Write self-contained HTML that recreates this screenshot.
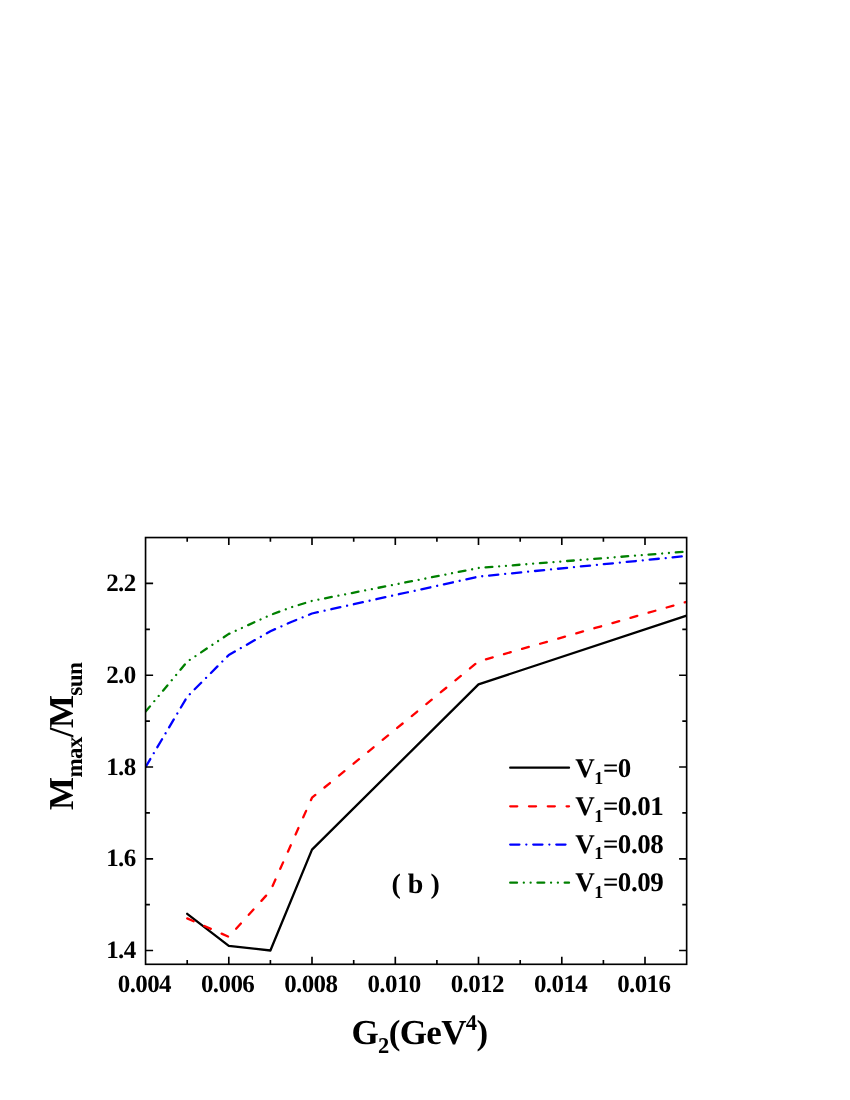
<!DOCTYPE html>
<html><head><meta charset="utf-8"><title>Figure</title>
<style>
html,body{margin:0;padding:0;background:#fff;}
body{width:850px;height:1100px;position:relative;overflow:hidden;font-family:"Liberation Serif",serif;}
</style></head><body>
<svg width="850" height="1100" viewBox="0 0 850 1100" style="position:absolute;left:0;top:0;will-change:transform">
<defs><clipPath id="c"><rect x="145.6" y="537.5" width="541.1" height="426.8"/></clipPath></defs>
<g fill="none" stroke-linejoin="round" stroke-linecap="round" stroke-width="2.3" clip-path="url(#c)">
<polyline points="187.2,913.8 228.8,945.9 270.4,950.5 312.0,849.6 478.5,684.4 686.6,615.6" stroke="#000"/>
<polyline points="187.2,918.4 228.8,936.8 270.4,890.9 312.0,797.7 478.5,661.4 686.6,601.8" stroke="#f00" stroke-dasharray="7.050 11.750"/>
<polyline points="145.6,767.0 187.2,696.8 228.8,655.0 270.4,631.2 291.2,622.0 312.0,613.5 478.5,576.6 686.6,556.0" stroke="#00f" stroke-dasharray="9.216 6.912 0.010 6.912"/>
<polyline points="145.6,711.6 187.2,661.6 228.8,633.9 270.4,615.0 291.2,607.3 312.0,600.9 478.5,568.0 686.6,551.6" stroke="#008000" stroke-dasharray="6.807 6.807 0.010 6.807 0.010 6.807"/>
</g>
<g stroke="#000" stroke-width="1.65" fill="none">
<rect x="145.55" y="537.55" width="541.10" height="426.75"/>
<path d="M187.2 964.3v-4.3M187.2 537.5v4.3M228.8 964.3v-7.5M228.8 537.5v7.5M270.4 964.3v-4.3M270.4 537.5v4.3M312.0 964.3v-7.5M312.0 537.5v7.5M353.7 964.3v-4.3M353.7 537.5v4.3M395.3 964.3v-7.5M395.3 537.5v7.5M436.9 964.3v-4.3M436.9 537.5v4.3M478.5 964.3v-7.5M478.5 537.5v7.5M520.2 964.3v-4.3M520.2 537.5v4.3M561.8 964.3v-7.5M561.8 537.5v7.5M603.4 964.3v-4.3M603.4 537.5v4.3M645.0 964.3v-7.5M645.0 537.5v7.5M145.6 950.5h7.5M686.6 950.5h-7.5M145.6 904.6h4.3M686.6 904.6h-4.3M145.6 858.8h7.5M686.6 858.8h-7.5M145.6 812.9h4.3M686.6 812.9h-4.3M145.6 767.0h7.5M686.6 767.0h-7.5M145.6 721.1h4.3M686.6 721.1h-4.3M145.6 675.2h7.5M686.6 675.2h-7.5M145.6 629.3h4.3M686.6 629.3h-4.3M145.6 583.4h7.5M686.6 583.4h-7.5"/>
</g>
<g fill="none" stroke-width="2.3" stroke-linecap="round">
<path d="M510.2 767.7H569" stroke="#000"/>
<path d="M510.2 806.3H569" stroke="#f00" stroke-dasharray="7.050 11.750"/>
<path d="M510.2 844.6H569" stroke="#00f" stroke-dasharray="9.216 6.912 0.010 6.912"/>
<path d="M510.2 882.7H569" stroke="#008000" stroke-dasharray="6.807 6.807 0.010 6.807 0.010 6.807"/>
</g>
<g font-family="'Liberation Serif', serif" font-weight="bold" fill="#000" text-rendering="geometricPrecision">
<text x="144.4" y="991.6" font-size="25" letter-spacing="-0.6" text-anchor="middle">0.004</text>
<text x="227.6" y="991.6" font-size="25" letter-spacing="-0.6" text-anchor="middle">0.006</text>
<text x="310.8" y="991.6" font-size="25" letter-spacing="-0.6" text-anchor="middle">0.008</text>
<text x="394.1" y="991.6" font-size="25" letter-spacing="-0.6" text-anchor="middle">0.010</text>
<text x="477.3" y="991.6" font-size="25" letter-spacing="-0.6" text-anchor="middle">0.012</text>
<text x="560.6" y="991.6" font-size="25" letter-spacing="-0.6" text-anchor="middle">0.014</text>
<text x="643.8" y="991.6" font-size="25" letter-spacing="-0.6" text-anchor="middle">0.016</text>
<text x="135.6" y="958.0" font-size="25" letter-spacing="-0.6" text-anchor="end">1.4</text>
<text x="135.6" y="866.3" font-size="25" letter-spacing="-0.6" text-anchor="end">1.6</text>
<text x="135.6" y="774.5" font-size="25" letter-spacing="-0.6" text-anchor="end">1.8</text>
<text x="135.6" y="682.7" font-size="25" letter-spacing="-0.6" text-anchor="end">2.0</text>
<text x="135.6" y="590.9" font-size="25" letter-spacing="-0.6" text-anchor="end">2.2</text>
<text x="575.3" y="777.3" font-size="27" letter-spacing="-0.45">V<tspan font-size="18" dy="6.4">1</tspan><tspan dy="-6.4">=0</tspan></text>
<text x="575.3" y="815.4" font-size="27" letter-spacing="-0.45">V<tspan font-size="18" dy="6.4">1</tspan><tspan dy="-6.4">=0.01</tspan></text>
<text x="575.3" y="853.0" font-size="27" letter-spacing="-0.45">V<tspan font-size="18" dy="6.4">1</tspan><tspan dy="-6.4">=0.08</tspan></text>
<text x="575.3" y="891.4" font-size="27" letter-spacing="-0.45">V<tspan font-size="18" dy="6.4">1</tspan><tspan dy="-6.4">=0.09</tspan></text>
<text x="391.5" y="892.6" font-size="28">(&#160;b&#160;)</text>
<text x="351.5" y="1044" font-size="35" letter-spacing="-0.65">G<tspan font-size="22.5" dy="8.6">2</tspan><tspan dy="-8.6">(GeV</tspan><tspan font-size="22.5" dy="-14">4</tspan><tspan dy="14">)</tspan></text>
<text transform="translate(73.1 810) rotate(-90)" font-size="35" letter-spacing="-0.6">M<tspan font-size="23" dy="9">max</tspan><tspan dy="-9">/M</tspan><tspan font-size="23" dy="9">sun</tspan></text>
</g>
</svg>
</body></html>
